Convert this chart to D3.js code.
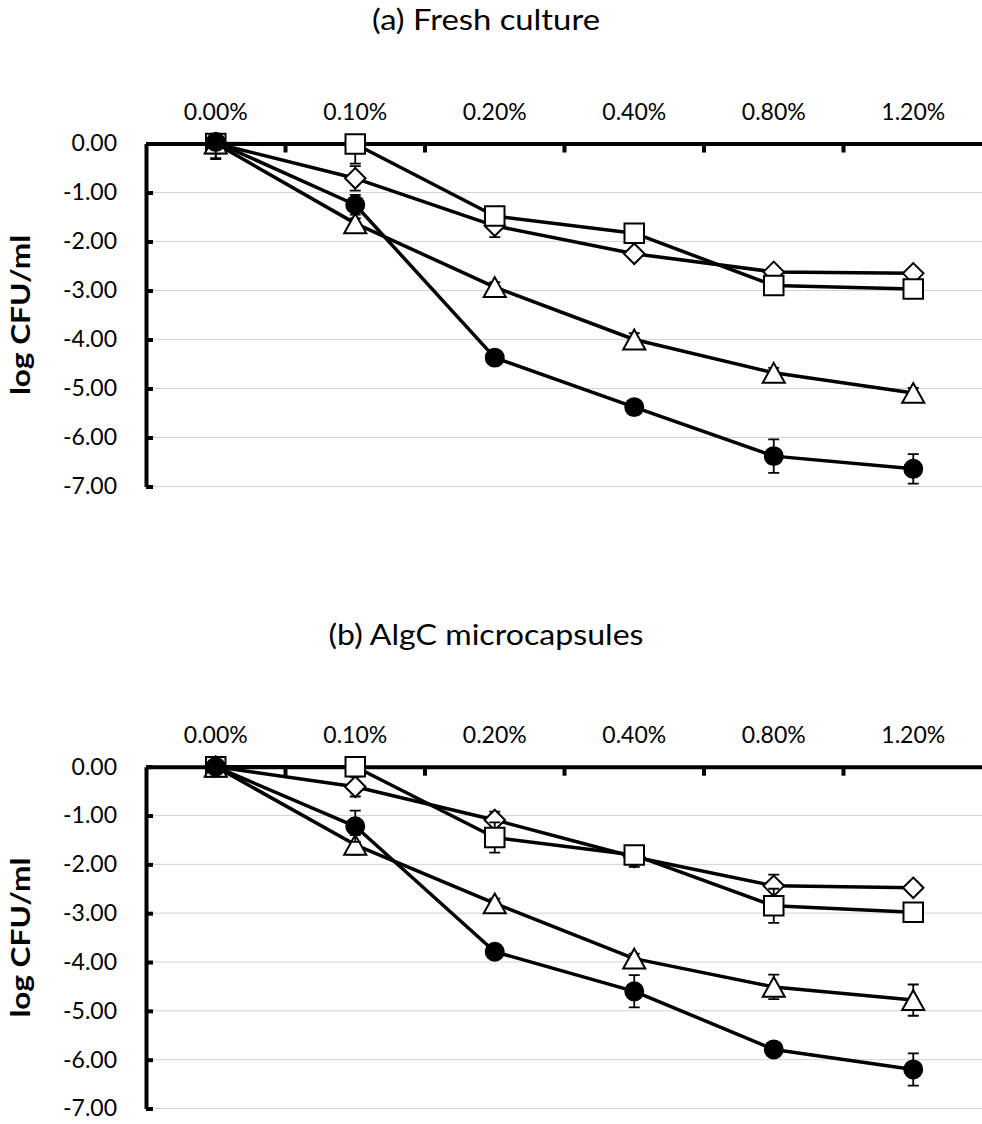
<!DOCTYPE html>
<html>
<head>
<meta charset="utf-8">
<script src="https://cdn.jsdelivr.net/npm/d3@7"></script>
<style>
  html, body { margin: 0; padding: 0; background: #fff; }
  svg { display: block; }
  text { font-family: Lato, "Open Sans", sans-serif; fill: #000; }
</style>
</head>
<body>
<svg id="chart" width="982" height="1124"></svg>
<script>
// Concentrations (top category axis)
const categories = ["0.00%", "0.10%", "0.20%", "0.40%", "0.80%", "1.20%"];
const yTicks = [0, -1, -2, -3, -4, -5, -6, -7];

// (a) Fresh culture — log CFU/ml reductions and their errors
const aDiamond = [0, -0.71, -1.68, -2.25, -2.62, -2.65];
const aDiamondErr = [0.1, 0.25, 0.23, 0.1, 0.1, 0.1];
const aSquare = [0, -0.01, -1.48, -1.83, -2.9, -2.97];
const aSquareErr = [0.3, 0.4, 0.1, 0.1, 0.15, 0.1];
const aTriangle = [0, -1.63, -2.93, -4.0, -4.68, -5.09];
const aTriangleErr = [0.2, 0.1, 0.1, 0.13, 0.1, 0.1];
const aCircle = [0.03, -1.25, -4.37, -5.38, -6.38, -6.64];
const aCircleErr = [0.35, 0.2, 0.1, 0.1, 0.34, 0.3];

// (b) AlgC microcapsules
const bDiamond = [0, -0.41, -1.09, -1.85, -2.44, -2.48];
const bDiamondErr = [0.1, 0.2, 0.17, 0.2, 0.23, 0.1];
const bSquare = [0, 0, -1.45, -1.81, -2.85, -2.98];
const bSquareErr = [0.1, 0.05, 0.31, 0.1, 0.35, 0.1];
const bTriangle = [0, -1.6, -2.8, -3.93, -4.51, -4.78];
const bTriangleErr = [0.1, 0.2, 0.1, 0.1, 0.25, 0.32];
const bCircle = [0, -1.22, -3.79, -4.6, -5.79, -6.2];
const bCircleErr = [0.05, 0.32, 0.1, 0.33, 0.15, 0.33];

const svg = d3.select("#chart");
const defs = svg.append("defs");

// Triangle symbol centred on its bounding box
const boxTriangle = {
  draw(ctx, size) {
    const w = Math.sqrt(size * 2 / 0.9);
    const h = w * 0.9;
    ctx.moveTo(0, -h / 2);
    ctx.lineTo(w / 2, h / 2);
    ctx.lineTo(-w / 2, h / 2);
    ctx.closePath();
  }
};
// Square-on-point diamond
const boxDiamond = {
  draw(ctx, size) {
    const r = Math.sqrt(size) / 2;
    ctx.moveTo(0, -r);
    ctx.lineTo(r, 0);
    ctx.lineTo(0, r);
    ctx.lineTo(-r, 0);
    ctx.closePath();
  }
};

const markerStyles = {
  diamond: { type: boxDiamond, size: 420, fill: "#fff" },
  square: { type: d3.symbolSquare, size: 380, fill: "#fff" },
  triangle: { type: boxTriangle, size: 220, fill: "#fff" },
  circle: { type: d3.symbolCircle, size: 254, fill: "#000" }
};

function drawPanel(cfg) {
  const g = svg.append("g");
  const x = d3.scaleBand().domain(categories).range([146, 983]);
  const y = d3.scaleLinear().domain([0, -7]).range([cfg.top, cfg.bottom]);
  const cx = c => x(c) + x.bandwidth() / 2;

  // error bars are clipped to the plot area
  defs.append("clipPath").attr("id", cfg.id + "-clip")
    .append("rect")
    .attr("x", 146).attr("y", y(0))
    .attr("width", 983 - 146).attr("height", y(-7) - y(0));

  // title
  g.append("text")
    .attr("x", 486).attr("y", cfg.titleY)
    .attr("text-anchor", "middle")
    .attr("textLength", cfg.titleLen).attr("lengthAdjust", "spacingAndGlyphs")
    .style("font-size", "28px")
    .text(cfg.title);

  // gridlines
  g.append("g").selectAll("line").data(yTicks.slice(1)).join("line")
    .attr("x1", 146).attr("x2", 983)
    .attr("y1", d => y(d)).attr("y2", d => y(d))
    .attr("stroke", "#d3d3d3").attr("stroke-width", 1);

  // y axis
  const yAxis = g.append("g").attr("transform", "translate(146,0)")
    .call(d3.axisLeft(y).tickValues(yTicks).tickFormat(d => d.toFixed(2))
      .tickSizeInner(-7).tickSizeOuter(0).tickPadding(29));
  yAxis.select(".domain").attr("stroke", "#000").attr("stroke-width", 4);
  yAxis.selectAll(".tick line").attr("stroke", "#000").attr("stroke-width", 4);
  yAxis.selectAll(".tick text").style("font-size", "23px").style("font-family", "Lato, sans-serif").attr("fill", "#000");

  // y axis title
  g.append("text")
    .attr("transform", `translate(30,${(cfg.top + cfg.bottom) / 2}) rotate(-90)`)
    .attr("text-anchor", "middle")
    .attr("textLength", 160).attr("lengthAdjust", "spacingAndGlyphs")
    .style("font-size", "26px").style("font-weight", "bold")
    .text("log CFU/ml");

  // category axis along y = 0, labels above
  const xAxis = g.append("g").attr("transform", `translate(0,${y(0)})`)
    .call(d3.axisTop(x).tickSize(0).tickPadding(24));
  xAxis.select(".domain").attr("stroke", "#000").attr("stroke-width", 4);
  xAxis.selectAll(".tick text").style("font-size", "23px").style("font-family", "Lato, sans-serif").attr("fill", "#000");
  // tick marks at category boundaries, pointing into the plot
  g.append("g").selectAll("line").data(categories.slice(0, -1)).join("line")
    .attr("x1", d => x(d) + x.bandwidth()).attr("x2", d => x(d) + x.bandwidth())
    .attr("y1", y(0)).attr("y2", y(0) + 9)
    .attr("stroke", "#000").attr("stroke-width", 4);

  // series: line, error bars, then markers
  cfg.series.forEach(s => {
    const pts = categories.map((c, i) => ({ c, v: s.values[i], e: s.err[i] }));
    const sg = g.append("g");
    sg.append("path").datum(pts)
      .attr("fill", "none").attr("stroke", "#000").attr("stroke-width", 3.5)
      .attr("stroke-linejoin", "round")
      .attr("d", d3.line().x(d => cx(d.c)).y(d => y(d.v)));

    const eb = sg.append("g").attr("clip-path", `url(#${cfg.id}-clip)`)
      .selectAll("g").data(pts).join("g");
    eb.append("line")
      .attr("x1", d => cx(d.c)).attr("x2", d => cx(d.c))
      .attr("y1", d => y(d.v + d.e)).attr("y2", d => y(d.v - d.e))
      .attr("stroke", "#000").attr("stroke-width", 1.8);
    [1, -1].forEach(sign => {
      eb.append("line")
        .attr("x1", d => cx(d.c) - 5.5).attr("x2", d => cx(d.c) + 5.5)
        .attr("y1", d => y(d.v + sign * d.e)).attr("y2", d => y(d.v + sign * d.e))
        .attr("stroke", "#000").attr("stroke-width", 1.8);
    });

    const m = markerStyles[s.marker];
    sg.append("g").selectAll("path").data(pts).join("path")
      .attr("transform", d => `translate(${cx(d.c)},${y(d.v)})`)
      .attr("d", d3.symbol().type(m.type).size(m.size))
      .attr("fill", m.fill).attr("stroke", "#000").attr("stroke-width", 2);
  });
}

drawPanel({
  id: "fresh",
  title: "(a) Fresh culture", titleY: 30, titleLen: 228, top: 143.5, bottom: 486.5,
  series: [
    { marker: "diamond", values: aDiamond, err: aDiamondErr },
    { marker: "square", values: aSquare, err: aSquareErr },
    { marker: "triangle", values: aTriangle, err: aTriangleErr },
    { marker: "circle", values: aCircle, err: aCircleErr }
  ]
});

drawPanel({
  id: "algc",
  title: "(b) AlgC microcapsules", titleY: 645, titleLen: 315, top: 766.7, bottom: 1108.5,
  series: [
    { marker: "diamond", values: bDiamond, err: bDiamondErr },
    { marker: "square", values: bSquare, err: bSquareErr },
    { marker: "triangle", values: bTriangle, err: bTriangleErr },
    { marker: "circle", values: bCircle, err: bCircleErr }
  ]
});
</script>
</body>
</html>
